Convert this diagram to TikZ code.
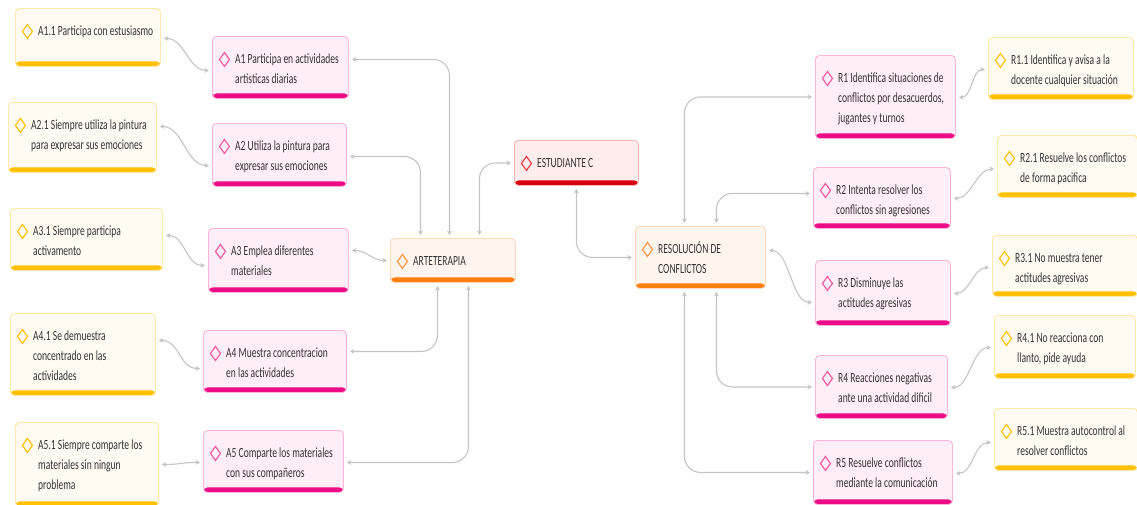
\documentclass[tikz,border=0pt]{standalone}
\usepackage{fontspec}
\setmainfont{Carlito}[FakeStretch=0.68]
\usetikzlibrary{calc,arrows.meta}
\definecolor{yelF}{HTML}{FFFBF3}
\definecolor{yelB}{HTML}{FFE7A8}
\definecolor{yelBar}{HTML}{FFC000}
\definecolor{pinF}{HTML}{FFEEF7}
\definecolor{pinB}{HTML}{FBB5D8}
\definecolor{pinBar}{HTML}{EC0A87}
\definecolor{pinD}{HTML}{F0559E}
\definecolor{oraF}{HTML}{FFF5EE}
\definecolor{oraB}{HTML}{FFD7BC}
\definecolor{oraBar}{HTML}{FF7D0A}
\definecolor{oraD}{HTML}{FF9040}
\definecolor{redF}{HTML}{FFEDED}
\definecolor{redB}{HTML}{F9B4B4}
\definecolor{redBar}{HTML}{D6000F}
\definecolor{redD}{HTML}{E83040}
\definecolor{connC}{HTML}{C4C4C4}
\definecolor{txtC}{HTML}{333333}
\tikzset{
  mmbox/.style n args={4}{draw=#1, fill=#2, line width=0.9pt, rounded corners=4pt, inner sep=0pt,
    path picture={
      \fill[#3] ([yshift=5pt]path picture bounding box.south west) rectangle (path picture bounding box.south east);
      \draw[#4, line width=1.1pt, sharp corners] ([shift={(12pt,-16pt)}]path picture bounding box.north west)
        -- ++(5pt,-7pt) -- ++(-5pt,-7pt) -- ++(-5pt,7pt) -- cycle;
    }},
  leafbox/.style={mmbox={yelB}{yelF}{yelBar}{yelBar}},
  subbox/.style={mmbox={pinB}{pinF}{pinBar}{pinD}},
  mainbox/.style={mmbox={oraB}{oraF}{oraBar}{oraD}},
  rootbox/.style={mmbox={redB}{redF}{redBar}{redD}},
  mmtext/.style={inner sep=0pt, align=left, font=\fontsize{14}{20}\selectfont, text=txtC},
  conn/.style={draw=connC, line width=1.1pt,
    {Stealth[length=4.5pt,width=5pt,inset=1.5pt]}-{Stealth[length=4.5pt,width=5pt,inset=1.5pt]},
    shorten >=3pt, shorten <=3pt},
  ortho/.style={conn, rounded corners=16pt}
}
\newcommand\mmnode[7]{%
  \node[#1, anchor=north west, minimum width={(#5-#3)*1pt}, minimum height={(#6-#4)*1pt}] (#2) at (#3,#4) {};
  \node[mmtext, anchor=north west] (#2t) at (#3+23,#4+13) {\strut #7};
}
\begin{document}
\begin{tikzpicture}[x=1pt,y=-1pt]
\useasboundingbox (0,0) rectangle (1137,504);
% left leaves
\mmnode{leafbox}{A11}{15}{8}{160}{66}{A1.1 Participa con estusiasmo}
\mmnode{leafbox}{A21}{8}{102}{156}{172}{A2.1 Siempre utiliza la pintura\\para expresar sus emociones}
\mmnode{leafbox}{A31}{10}{208}{162}{270}{A3.1 Siempre participa\\activamento}
\mmnode{leafbox}{A41}{10}{313}{155}{395}{A4.1 Se demuestra\\concentrado en las\\actividades}
\mmnode{leafbox}{A51}{15}{422}{158}{506}{A5.1 Siempre comparte los\\materiales sin ningun\\problema}
% left subs
\mmnode{subbox}{A1}{212}{36}{348}{98}{A1 Participa en actividades\\artisticas diarias}
\mmnode{subbox}{A2}{212}{123}{346}{186}{A2 Utiliza la pintura para\\expresar sus emociones}
\mmnode{subbox}{A3}{208}{228}{348}{292}{A3 Emplea diferentes\\materiales}
\mmnode{subbox}{A4}{203}{330}{346}{392}{A4 Muestra concentracion\\en las actividades}
\mmnode{subbox}{A5}{203}{430}{343}{492}{A5 Comparte los materiales\\con sus compañeros}
% main
\mmnode{mainbox}{ART}{390}{238}{515}{282}{ARTETERAPIA}
\mmnode{rootbox}{EST}{514}{140}{638}{185}{ESTUDIANTE C}
\mmnode{mainbox}{RES}{635}{226}{765}{288}{RESOLUCIÓN DE\\CONFLICTOS}
% right subs
\mmnode{subbox}{R1}{815}{55}{955}{138}{R1 Identifica situaciones de\\conflictos por desacuerdos,\\jugantes y turnos}
\mmnode{subbox}{R2}{813}{167}{950}{228}{R2 Intenta resolver los\\conflictos sin agresiones}
\mmnode{subbox}{R3}{815}{260}{950}{325}{R3 Disminuye las\\actitudes agresivas}
\mmnode{subbox}{R4}{815}{355}{947}{418}{R4 Reacciones negativas\\ante una actividad dificil}
\mmnode{subbox}{R5}{813}{440}{952}{504}{R5 Resuelve conflictos\\mediante la comunicación}
% right leaves
\mmnode{leafbox}{R11}{988}{37}{1133}{99}{R1.1 Identifica y avisa a la\\docente cualquier situación}
\mmnode{leafbox}{R21}{997}{135}{1137}{197}{R2.1 Resuelve los conflictos\\de forma pacifica}
\mmnode{leafbox}{R31}{992}{235}{1137}{296}{R3.1 No muestra tener\\actitudes agresivas}
\mmnode{leafbox}{R41}{994}{315}{1135}{378}{R4.1 No reacciona con\\llanto, pide ayuda}
\mmnode{leafbox}{R51}{994}{408}{1137}{470}{R5.1 Muestra autocontrol al\\resolver conflictos}
% connectors left
\draw[conn] ($(A11.east)+(0,1)$) .. controls +(24,0) and +(-24,0) .. ($(A1.west)+(0,3)$);
\draw[conn] ($(A21.east)+(0,-11)$) .. controls +(26,0) and +(-26,0) .. ($(A2.west)+(0,10.5)$);
\draw[conn] ($(A31.east)+(0,-4)$) .. controls +(22,0) and +(-22,0) .. ($(A3.west)+(0,5)$);
\draw[conn] ($(A41.east)+(0,-14)$) .. controls +(24,0) and +(-24,0) .. ($(A4.west)+(0,7)$);
\draw[conn] (A51.east) .. controls +(22,0) and +(-22,0) .. ($(A5.west)+(0,1)$);
\draw[ortho] ($(A1.east)+(0,-8)$) -| ($(ART.north)+(-3.5,0)$);
\draw[ortho] ($(A2.east)+(0,1.5)$) -| ($(ART.north)+(-32.5,0)$);
\draw[conn] ($(A3.east)+(0,-10)$) .. controls +(18,0) and +(-18,0) .. (ART.west);
\draw[ortho] ($(A4.east)+(0,-10)$) -| ($(ART.south)+(-15.5,0)$);
\draw[ortho] ($(A5.east)+(0,1)$) -| ($(ART.south)+(15.5,0)$);
\draw[ortho] ($(ART.north)+(26.5,0)$) |- (EST.west);
\draw[ortho] (EST.south) |- (RES.west);
% connectors right
\draw[ortho] ($(RES.north)+(-16,0)$) |- (R1.west);
\draw[ortho] ($(R2.west)+(0,-4.5)$) -| ($(RES.north)+(16,0)$);
\draw[conn] ($(RES.east)+(0,-7)$) .. controls +(24,0) and +(-24,0) .. ($(R3.west)+(0,9.5)$);
\draw[ortho] (R4.west) -| ($(RES.south)+(16,0)$);
\draw[ortho] (R5.west) -| ($(RES.south)+(-16,0)$);
\draw[conn] ($(R1.east)+(0,0.5)$) .. controls +(16,0) and +(-16,0) .. ($(R11.west)+(0,1)$);
\draw[conn] ($(R2.east)+(0,0.5)$) .. controls +(20,0) and +(-20,0) .. ($(R21.west)+(0,2.5)$);
\draw[conn] ($(R3.east)+(0,0.5)$) .. controls +(18,0) and +(-18,0) .. ($(R31.west)+(0,1.5)$);
\draw[conn] ($(R4.east)+(0,0.5)$) .. controls +(22,0) and +(-22,0) .. ($(R41.west)+(0,0.5)$);
\draw[conn] ($(R5.east)+(0,1)$) .. controls +(20,0) and +(-20,0) .. ($(R51.west)+(0,3)$);
\end{tikzpicture}
\end{document}
